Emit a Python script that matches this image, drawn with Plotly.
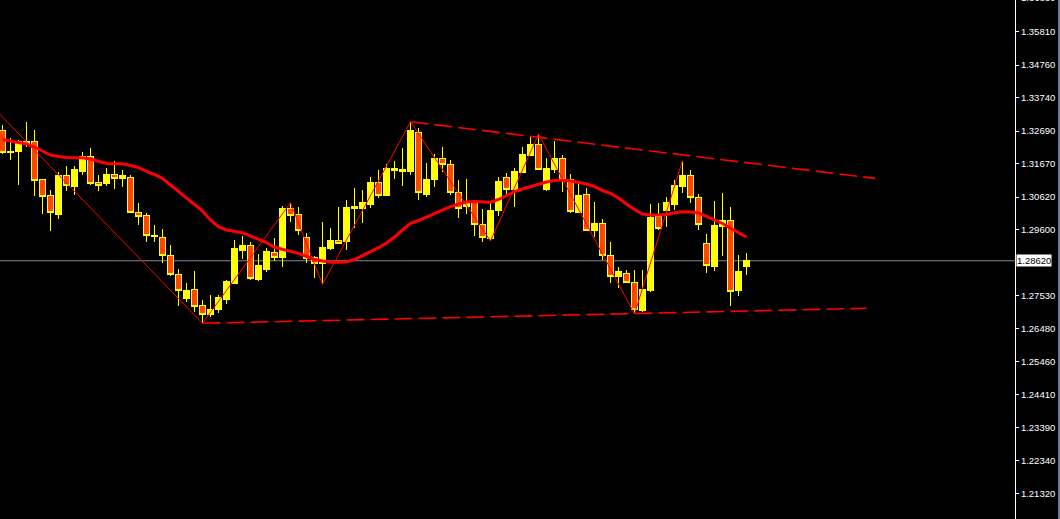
import plotly.graph_objects as go

# ---- data ----
opens = [1.32724, 1.32011, 1.32043, 1.32316, 1.32379, 1.31155, 1.30653, 1.30087, 1.31281, 1.30945,
         1.31406, 1.31908, 1.31061, 1.31039, 1.31312, 1.31196, 1.31218, 1.30150, 1.30056, 1.29375,
         1.29356, 1.28778, 1.28194, 1.27441, 1.27702, 1.27200, 1.26917, 1.27096, 1.27419, 1.27912,
         1.28957, 1.29083, 1.28047, 1.28360, 1.28894, 1.28715, 1.30245, 1.30087, 1.29356, 1.28737,
         1.28540, 1.28989, 1.29271, 1.29218, 1.30245, 1.30267, 1.30370, 1.31070, 1.30662, 1.31531,
         1.31416, 1.31406, 1.32639, 1.30715, 1.31155, 1.31845, 1.31657, 1.30756, 1.30317, 1.30442,
         1.29764, 1.29324, 1.30191, 1.31240, 1.30872, 1.31397, 1.31939, 1.32284, 1.30841, 1.31500,
         1.31814, 1.31155, 1.30128, 1.30715, 1.29563, 1.29795, 1.28791, 1.28119, 1.28226, 1.27944,
         1.27052, 1.27671, 1.30003, 1.30213, 1.30370, 1.30945, 1.31281, 1.30611, 1.29167, 1.28433,
         1.29689, 1.29868, 1.27680, 1.28433]
highs = [1.32881, 1.32473, 1.32410, 1.32975, 1.32724, 1.31186, 1.30841, 1.31406, 1.31594, 1.31594,
         1.32033, 1.32159, 1.31312, 1.31531, 1.31751, 1.31469, 1.31312, 1.30433, 1.30119, 1.29742,
         1.29616, 1.29114, 1.28360, 1.27912, 1.28298, 1.27388, 1.27545, 1.27545, 1.28016, 1.29271,
         1.29397, 1.29199, 1.28831, 1.29011, 1.29334, 1.30348, 1.30442, 1.30298, 1.29491, 1.28778,
         1.29846, 1.29657, 1.30317, 1.30527, 1.30894, 1.30841, 1.31259, 1.31469, 1.31647, 1.31751,
         1.32168, 1.32985, 1.32778, 1.31697, 1.31970, 1.32190, 1.31782, 1.31155, 1.31186, 1.30527,
         1.30235, 1.30423, 1.31259, 1.31384, 1.31540, 1.32181, 1.32514, 1.32589, 1.31836, 1.32388,
         1.31939, 1.31343, 1.31133, 1.30894, 1.30455, 1.29921, 1.29199, 1.28414, 1.28329, 1.28329,
         1.28329, 1.30401, 1.30423, 1.30631, 1.31155, 1.31760, 1.31469, 1.30715, 1.29460, 1.30496,
         1.30756, 1.30298, 1.28800, 1.28853]
lows = [1.31970, 1.31782, 1.30998, 1.32190, 1.30653, 1.30087, 1.29563, 1.29930, 1.30819, 1.30693,
        1.31321, 1.30998, 1.30819, 1.30967, 1.30882, 1.30935, 1.30115, 1.29751, 1.29208, 1.29218,
        1.28549, 1.28150, 1.27209, 1.27335, 1.27021, 1.26656, 1.26864, 1.26970, 1.27262, 1.27890,
        1.28674, 1.28016, 1.27994, 1.28276, 1.28612, 1.28433, 1.29846, 1.29428, 1.28558, 1.28088,
        1.27881, 1.28957, 1.29145, 1.28957, 1.29638, 1.29795, 1.30267, 1.30580, 1.30653, 1.31196,
        1.30976, 1.31312, 1.30527, 1.30631, 1.30945, 1.31397, 1.30684, 1.29971, 1.30087, 1.29406,
        1.29218, 1.29240, 1.30034, 1.30631, 1.30317, 1.31365, 1.31917, 1.31469, 1.30819, 1.31365,
        1.30788, 1.30119, 1.30109, 1.29554, 1.29375, 1.28643, 1.27931, 1.27755, 1.27912, 1.26949,
        1.27021, 1.27648, 1.29585, 1.29670, 1.30213, 1.30756, 1.30442, 1.29585, 1.28244, 1.28307,
        1.28769, 1.27209, 1.27523, 1.28172]
closes = [1.32011, 1.32065, 1.32379, 1.32379, 1.31133, 1.30631, 1.30128, 1.31281, 1.30976, 1.31469,
          1.31908, 1.31039, 1.30976, 1.31312, 1.31196, 1.31281, 1.30128, 1.30003, 1.29406, 1.29428,
          1.28778, 1.28194, 1.27671, 1.27671, 1.27178, 1.26939, 1.27105, 1.27473, 1.27953, 1.28998,
          1.29083, 1.28057, 1.28486, 1.28904, 1.28715, 1.30245, 1.30047, 1.29563, 1.28696, 1.28549,
          1.29029, 1.29271, 1.29167, 1.30285, 1.30317, 1.30433, 1.31070, 1.30662, 1.31531, 1.31459,
          1.31469, 1.32702, 1.30769, 1.31186, 1.31845, 1.31647, 1.30769, 1.30267, 1.30442, 1.29764,
          1.29356, 1.30213, 1.31123, 1.30841, 1.31437, 1.31970, 1.32284, 1.31500, 1.31522, 1.31814,
          1.31155, 1.30160, 1.30653, 1.29563, 1.29795, 1.28800, 1.28141, 1.28267, 1.27931, 1.27074,
          1.27702, 1.29971, 1.29626, 1.30442, 1.30967, 1.31281, 1.30611, 1.29764, 1.28464, 1.29711,
          1.29868, 1.27648, 1.28298, 1.28620]
moving_avg = [1.32426, 1.32379, 1.32332, 1.32284, 1.32190, 1.32065, 1.31939, 1.31892, 1.31861, 1.31855,
              1.31855, 1.31814, 1.31735, 1.31673, 1.31666, 1.31666, 1.31610, 1.31547, 1.31422, 1.31328,
              1.31208, 1.30998, 1.30788, 1.30580, 1.30370, 1.30182, 1.29899, 1.29689, 1.29585, 1.29532,
              1.29501, 1.29397, 1.29293, 1.29186, 1.29042, 1.28979, 1.28904, 1.28853, 1.28753, 1.28659,
              1.28612, 1.28571, 1.28571, 1.28580, 1.28659, 1.28778, 1.28904, 1.29029, 1.29177, 1.29365,
              1.29585, 1.29795, 1.29883, 1.29993, 1.30103, 1.30213, 1.30317, 1.30401, 1.30464, 1.30480,
              1.30464, 1.30455, 1.30543, 1.30653, 1.30788, 1.30872, 1.30945, 1.31029, 1.31092, 1.31139,
              1.31155, 1.31133, 1.31083, 1.31029, 1.30951, 1.30825, 1.30737, 1.30590, 1.30401, 1.30229,
              1.30087, 1.30056, 1.30056, 1.30072, 1.30128, 1.30160, 1.30150, 1.30119, 1.30009, 1.29899,
              1.29789, 1.29638, 1.29491, 1.29365]
bar_index = list(range(len(opens)))

zigzag_index = [-3, 25, 36, 40, 51, 61, 67, 79, 85]
zigzag_price = [1.33908, 1.26656, 1.30442, 1.27881, 1.32985, 1.29240, 1.32589, 1.26949, 1.31760]

upper_trend_index = [51, 109.1]
upper_trend_price = [1.32985, 1.31205]
lower_trend_index = [25, 108.0]
lower_trend_price = [1.26656, 1.27127]

current_price = 1.28620
tick_values = [1.35810, 1.34760, 1.33740, 1.32690, 1.31670, 1.30620, 1.29600,
               1.27530, 1.26480, 1.25460, 1.24410, 1.23390, 1.22340, 1.21320]
tick_labels = ["%.5f" % v for v in tick_values]
top_label = "1.36830"

y_range = [1.20513, 1.36805]
x_range = [-0.3125, 126.5625]

FONT = "Tahoma, Liberation Sans, Arial, sans-serif"

fig = go.Figure()
fig.add_trace(go.Candlestick(
    x=bar_index, open=opens, high=highs, low=lows, close=closes,
    increasing=dict(line=dict(color="#FFFF00", width=1), fillcolor="#FFFF00"),
    decreasing=dict(line=dict(color="#FFFF00", width=1), fillcolor="#FF4500"),
    whiskerwidth=0, showlegend=False, hoverinfo="skip",
))
fig.add_trace(go.Scatter(
    x=bar_index, y=moving_avg, mode="lines",
    line=dict(color="#FF0000", width=3), showlegend=False, hoverinfo="skip",
))
fig.add_trace(go.Scatter(
    x=zigzag_index, y=zigzag_price, mode="lines",
    line=dict(color="#FF0000", width=1), showlegend=False, hoverinfo="skip",
))
for xs, ys in [(upper_trend_index, upper_trend_price), (lower_trend_index, lower_trend_price)]:
    fig.add_trace(go.Scatter(
        x=xs, y=ys, mode="lines",
        line=dict(color="#FF0000", width=1.6, dash="18px,6px"),
        showlegend=False, hoverinfo="skip",
    ))

fig.add_shape(type="line", xref="paper", x0=0, x1=1, yref="y", y0=current_price, y1=current_price,
              line=dict(color="#778899", width=1), layer="below")
fig.add_shape(type="line", xref="paper", x0=1.0434, x1=1.0434, yref="paper", y0=0, y1=1,
              line=dict(color="#6c7f9c", width=2))

fig.add_annotation(xref="paper", x=1, xanchor="left", xshift=1, yref="y", y=current_price,
                   yanchor="middle", text="%.5f" % current_price, showarrow=False,
                   bgcolor="#FFFFFF", borderpad=0, font=dict(family=FONT, size=9.5, color="#000000"))
fig.add_annotation(xref="paper", x=1, xanchor="left", xshift=4, yref="paper", y=1.004,
                   yanchor="middle", text=top_label, showarrow=False,
                   font=dict(family=FONT, size=9.5, color="#FFFFFF"))

fig.update_layout(
    width=1060, height=519,
    margin=dict(l=0, r=45, t=0, b=0),
    paper_bgcolor="#000000", plot_bgcolor="#000000",
    boxgap=0.3, boxgroupgap=0.1,
    showlegend=False,
    xaxis=dict(range=x_range, visible=False, rangeslider=dict(visible=False),
               showgrid=False, zeroline=False),
    yaxis=dict(range=y_range, side="right", showgrid=False, zeroline=False,
               showline=True, linecolor="#FFFFFF", linewidth=1,
               ticks="outside", ticklen=3, tickcolor="#FFFFFF", tickwidth=1,
               tickvals=tick_values, ticktext=tick_labels,
               tickfont=dict(family=FONT, size=9.5, color="#FFFFFF")),
)

fig.write_html(
    "out.html",
    config={"displayModeBar": False},
    post_script="document.body.style.margin='0';document.body.style.padding='0';"
                "document.body.style.overflow='hidden';document.body.style.background='#000';"
                "document.querySelectorAll('.boxlayer path').forEach(function(p){"
                "p.style.shapeRendering='crispEdges';});",
)
